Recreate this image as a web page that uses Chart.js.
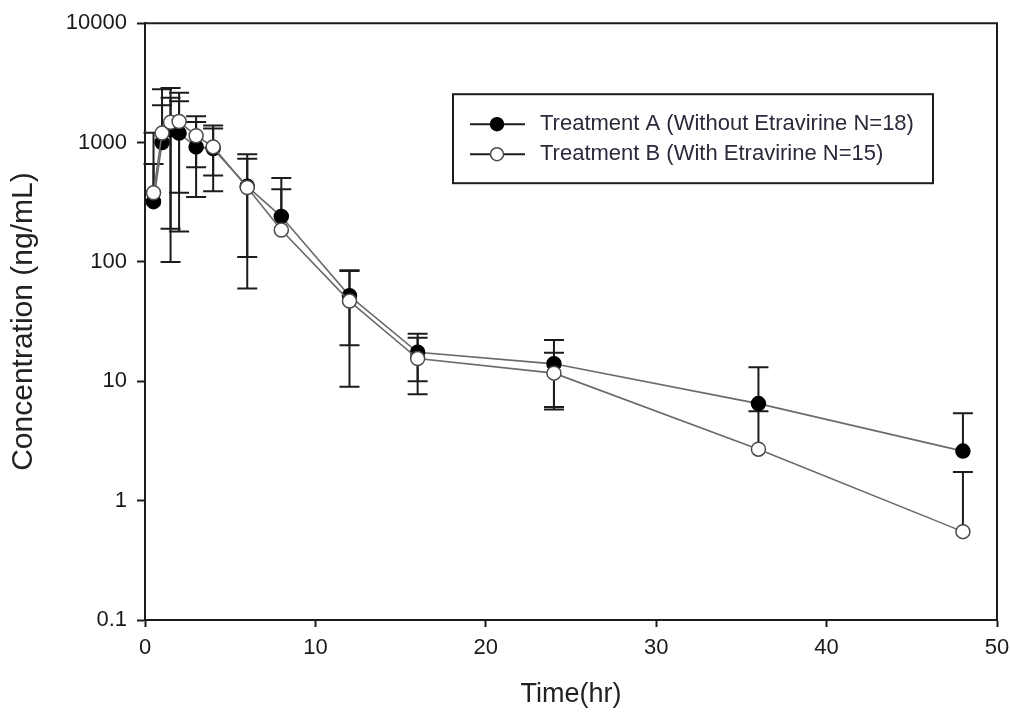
<!DOCTYPE html>
<html>
<head>
<meta charset="utf-8">
<title>Plasma concentration vs time</title>
<script src="https://cdn.jsdelivr.net/npm/chart.js@4/dist/chart.umd.min.js"></script>
<style>
  html, body { margin: 0; padding: 0; background: #fff; }
  #wrap { width: 1010px; height: 717px; }
</style>
</head>
<body>
<div id="wrap"><canvas id="pkChart" width="1010" height="717"></canvas></div>
<script>
// sampling times (hr)
const hours = [0.5, 1, 1.5, 2, 3, 4, 6, 8, 12, 16, 24, 36, 48];

// mean and SD concentration (ng/mL), treatment A
const meanA = [320, 1000, 1280, 1200, 920, 890, 430, 240, 52, 17.5, 14, 6.5, 2.6];
const sdA = [340, 1050, 1090, 1020, 570, 500, 370, 265, 32, 7.5, 8.2, 6.6, 2.8];

// mean and SD concentration (ng/mL), treatment B
const meanB = [380, 1200, 1480, 1500, 1140, 920, 420, 185, 47, 15.5, 11.7, 2.7, 0.55];
const sdB = [830, 1600, 1380, 1120, 520, 390, 310, 222, 38, 7.7, 5.6, 2.9, 1.19];

const labelA = 'Treatment A (Without Etravirine N=18)';
const labelB = 'Treatment B (With Etravirine N=15)';

const xTicks = [0, 10, 20, 30, 40, 50];
const yTicks = [0.1, 1, 10, 100, 1000, 10000];

const INK = '#1c1c1c';
const FONT = "'Liberation Sans', Arial, sans-serif";

function toPoints(means) {
    return hours.map((h, i) => ({ x: h, y: means[i] }));
}

// mean +/- SD whiskers, drawn under the markers
const errorBars = {
    id: 'errorBars',
    beforeDatasetsDraw(chart) {
        const ctx = chart.ctx;
        const xs = chart.scales.x;
        const ys = chart.scales.y;
        const cap = 10;
        ctx.save();
        ctx.strokeStyle = INK;
        ctx.lineWidth = 2;
        chart.data.datasets.forEach(ds => {
            ds.data.forEach((p, i) => {
                const sd = ds.sd[i];
                const px = xs.getPixelForValue(p.x);
                const py = ys.getPixelForValue(p.y);
                const hi = ys.getPixelForValue(p.y + sd);
                ctx.beginPath();
                ctx.moveTo(px, py);
                ctx.lineTo(px, hi);
                ctx.moveTo(px - cap, hi);
                ctx.lineTo(px + cap, hi);
                if (p.y - sd > 0) {
                    const lo = ys.getPixelForValue(p.y - sd);
                    ctx.moveTo(px, py);
                    ctx.lineTo(px, lo);
                    ctx.moveTo(px - cap, lo);
                    ctx.lineTo(px + cap, lo);
                }
                ctx.stroke();
            });
        });
        ctx.restore();
    }
};

// closes the plot box on the top and right sides
const frame = {
    id: 'frame',
    beforeDatasetsDraw(chart) {
        const a = chart.chartArea;
        const ctx = chart.ctx;
        ctx.save();
        ctx.strokeStyle = INK;
        ctx.lineWidth = 2;
        ctx.beginPath();
        ctx.moveTo(a.left, a.top);
        ctx.lineTo(a.right, a.top);
        ctx.lineTo(a.right, a.bottom);
        ctx.stroke();
        ctx.restore();
    }
};

// boxed legend inside the plot, line + marker sample per series
const boxLegend = {
    id: 'boxLegend',
    afterDraw(chart) {
        const a = chart.chartArea;
        const ctx = chart.ctx;
        const x0 = a.left + 308;
        const y0 = a.top + 71;
        const w = 480;
        const h = 89;
        ctx.save();
        ctx.fillStyle = '#fff';
        ctx.fillRect(x0, y0, w, h);
        ctx.strokeStyle = INK;
        ctx.lineWidth = 2;
        ctx.strokeRect(x0, y0, w, h);

        ctx.font = '22px ' + FONT;
        ctx.textBaseline = 'middle';
        chart.data.datasets.forEach((ds, i) => {
            const cy = y0 + 30 + i * 30;
            ctx.strokeStyle = INK;
            ctx.lineWidth = 2;
            ctx.beginPath();
            ctx.moveTo(x0 + 17, cy);
            ctx.lineTo(x0 + 72, cy);
            ctx.stroke();
            ctx.beginPath();
            ctx.arc(x0 + 44, cy, 6.5, 0, Math.PI * 2);
            ctx.fillStyle = ds.pointBackgroundColor;
            ctx.fill();
            ctx.lineWidth = 1.5;
            ctx.strokeStyle = ds.pointBorderColor;
            ctx.stroke();
            ctx.fillStyle = '#2a2a3a';
            ctx.fillText(ds.label, x0 + 87, cy);
        });
        ctx.restore();
    }
};

new Chart(document.getElementById('pkChart'), {
    type: 'scatter',
    data: {
        datasets: [{
            label: labelA,
            data: toPoints(meanA),
            sd: sdA,
            showLine: true,
            borderColor: '#6a6a6a',
            borderWidth: 1.6,
            pointRadius: 7,
            pointBackgroundColor: '#000',
            pointBorderColor: '#000',
            pointBorderWidth: 1.5,
            order: 1
        }, {
            label: labelB,
            data: toPoints(meanB),
            sd: sdB,
            showLine: true,
            borderColor: '#6a6a6a',
            borderWidth: 1.6,
            pointRadius: 7,
            pointBackgroundColor: '#fff',
            pointBorderColor: '#4a4a4a',
            pointBorderWidth: 1.5,
            order: 0
        }]
    },
    options: {
        responsive: false,
        animation: false,
        devicePixelRatio: 1,
        layout: { padding: { top: 22, right: 13, left: 0, bottom: 0 } },
        plugins: {
            legend: { display: false },
            tooltip: { enabled: false }
        },
        scales: {
            x: {
                type: 'linear',
                min: 0,
                max: 50,
                afterBuildTicks: scale => { scale.ticks = xTicks.map(v => ({ value: v })); },
                afterFit: scale => {
                    scale.height = 97;
                    scale.paddingLeft = 0;
                    scale.paddingRight = 0;
                },
                border: { display: true, color: INK, width: 2 },
                grid: { drawOnChartArea: false, drawTicks: true, tickLength: 7, tickColor: INK, tickWidth: 2 },
                ticks: { color: '#1a1a1a', font: { family: FONT, size: 22 }, padding: 8, maxRotation: 0 },
                title: {
                    display: true,
                    text: 'Time(hr)',
                    color: '#222',
                    font: { family: FONT, size: 27 },
                    padding: { top: 4, bottom: 6 }
                }
            },
            y: {
                type: 'logarithmic',
                min: 0.1,
                max: 10000,
                afterBuildTicks: scale => { scale.ticks = yTicks.map(v => ({ value: v })); },
                afterFit: scale => { scale.width = 145; },
                border: { display: true, color: INK, width: 2 },
                grid: { drawOnChartArea: false, drawTicks: true, tickLength: 8, tickColor: INK, tickWidth: 2 },
                ticks: {
                    color: '#1a1a1a',
                    font: { family: FONT, size: 22 },
                    padding: 10,
                    callback: v => String(v)
                },
                title: {
                    display: true,
                    text: 'Concentration (ng/mL)',
                    color: '#222',
                    font: { family: FONT, size: 30 },
                    padding: { top: 6, bottom: 0 }
                }
            }
        }
    },
    plugins: [frame, errorBars, boxLegend]
});
</script>
</body>
</html>
